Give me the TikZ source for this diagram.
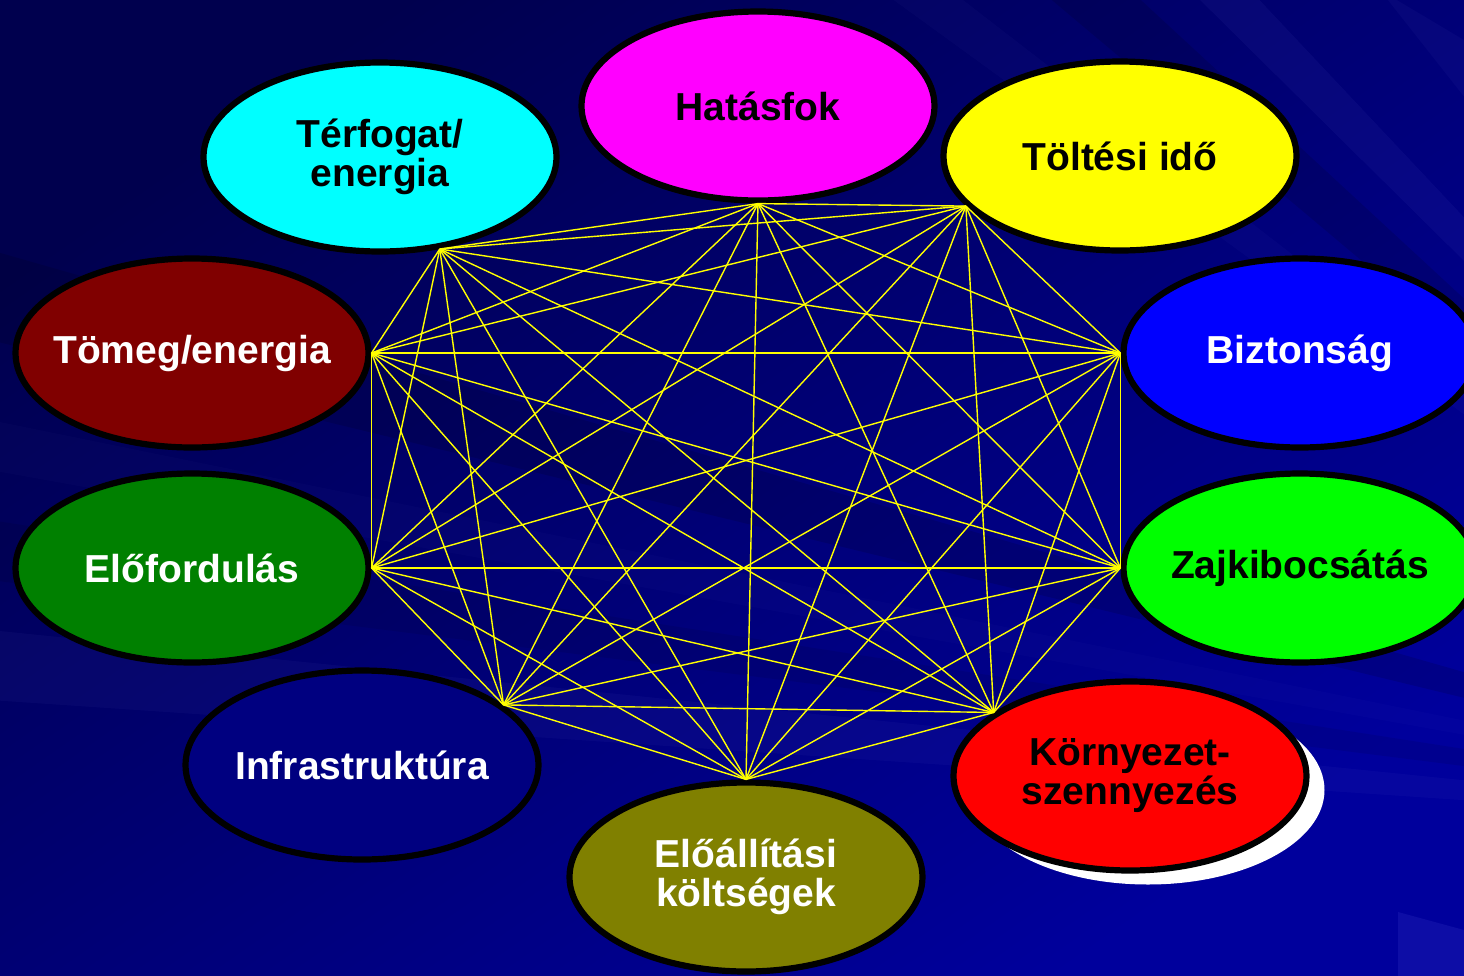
\documentclass[tikz,border=0pt]{standalone}
\usepackage{fontspec}
\setmainfont{Liberation Sans}
\usetikzlibrary{shapes.geometric}
\definecolor{bgtop}{HTML}{00004E}
\definecolor{bgbot}{HTML}{00009C}
\definecolor{kmagenta}{HTML}{FF00FF}
\definecolor{kcyan}{HTML}{00FFFF}
\definecolor{kyellow}{HTML}{FFFF00}
\definecolor{kdarkred}{HTML}{800000}
\definecolor{kblue}{HTML}{0000FF}
\definecolor{kgreen}{HTML}{008000}
\definecolor{klime}{HTML}{00FF00}
\definecolor{knavy}{HTML}{000080}
\definecolor{kolive}{HTML}{808000}
\definecolor{kred}{HTML}{FF0000}
\newcommand*{\kapcsok}{hatasfok.270, toltes.198, bizt.180, zaj.180, korny.155,
  eloall.90, infra.23, elofor.0, tomeg.0, terfogat.303}

\begin{document}
\begin{tikzpicture}[x=0.5pt, y=-0.5pt]
  \useasboundingbox (0,0) rectangle (1464,976);
  \clip (0,0) rectangle (1464,976);
  \shade[top color=bgtop, bottom color=bgbot, shading angle=35] (0,0) rectangle (1464,976);

  \foreach \a/\b/\o in {{-10,630}/{-10,700}/0.04, {-10,420}/{-10,470}/0.025,
      {880,-10}/{950,-10}/0.03, {1190,-10}/{1250,-10}/0.05, {1380,-10}/{1464,40}/0.04}
    \fill[blue!40!white, opacity=\o] (2050,840) -- (\a) -- (\b) -- cycle;
  \foreach \a/\b/\o in {{-10,250}/{-10,340}/0.12, {1040,-10}/{1130,-10}/0.12,
      {-10,520}/{-10,580}/0.08}
    \fill[black, opacity=\o] (2050,840) -- (\a) -- (\b) -- cycle;
  \fill[blue!50!white, opacity=0.1] (1398,912) -- (1464,930) -- (1464,976) -- (1398,976) -- cycle;

  {\tikzstyle{every node}=[ellipse, draw=black, line width=3.1pt, inner sep=0pt,
      minimum width=176.5pt, minimum height=94.5pt]
    \tikzstyle{txt}=[draw=none, font=\fontsize{19.5}{19.5}\selectfont\bfseries, align=center]

    \node[fill=white, draw=none] (arnyek) at (1148,790) {};

    \node[fill=kmagenta, label={[txt]center:Hatásfok}] (hatasfok) at (758,106) {};
    \node[fill=kcyan, label={[txt]center:Térfogat/\\energia}] (terfogat) at (380,157) {};
    \node[fill=kyellow, label={[txt]center:Töltési idő}] (toltes) at (1120,156) {};
    \node[fill=kdarkred, label={[txt, white]center:Tömeg/energia}] (tomeg) at (192,353) {};
    \node[fill=kblue, label={[txt, white]center:Biztonság}] (bizt) at (1300,353) {};
    \node[fill=kgreen, label={[txt, white]center:Előfordulás}] (elofor) at (192,568) {};
    \node[fill=klime, label={[txt]center:Zajkibocsátás}] (zaj) at (1300,568) {};
    \node[fill=knavy, label={[txt, white]center:Infrastruktúra}] (infra) at (362,765) {};
    \node[fill=kolive, label={[txt, white]center:Előállítási\\költségek}] (eloall) at (746,877) {};
    \node[fill=kred, label={[txt]center:Környezet-\\szennyezés}] (korny) at (1130,776) {};
  }

  \foreach \a [count=\i] in \kapcsok
    \foreach \b [count=\j] in \kapcsok
    {
      \ifnum\j>\i
        \draw[kyellow, line width=0.7pt] (\a) -- (\b);
      \fi
    }
\end{tikzpicture}
\end{document}
